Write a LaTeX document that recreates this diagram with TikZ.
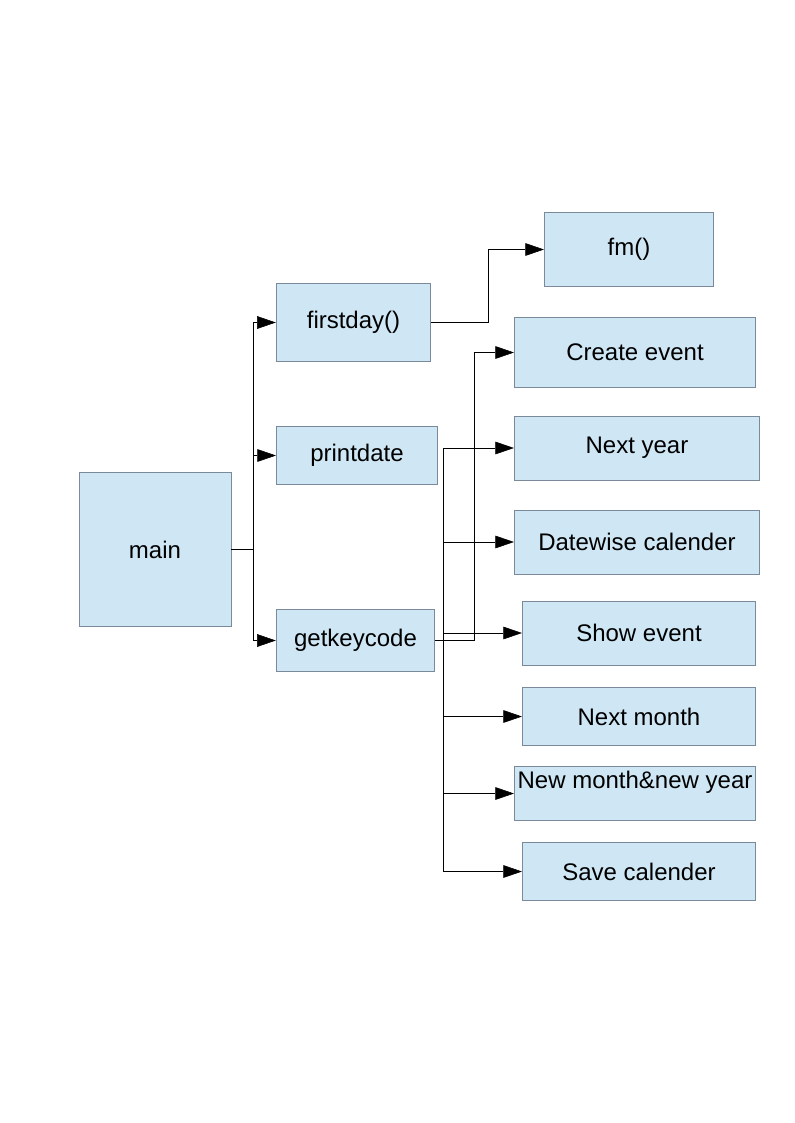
\documentclass[tikz,border=0pt]{standalone}
\usepackage{fontspec}
\setmainfont{Liberation Sans}
\usepackage{tikz}
\usetikzlibrary{arrows.meta, positioning}
\definecolor{boxblue}{RGB}{207,231,245}
\definecolor{boxedge}{RGB}{122,138,154}
\tikzset{
x=0.75pt, y=-0.75pt, % one unit is one pixel of the page
>={Triangle[length=14pt, width=9.5pt]}, % big filled arrow heads
line width=0.75pt,
fn/.style={draw=boxedge, fill=boxblue, line width=0.6pt, inner sep=0pt,
  font=\fontsize{18}{21}\selectfont}, % sets the properties for each function box
}

\begin{document}
\begin{tikzpicture}
      \useasboundingbox (0,0) rectangle (794,1123);
      \node[fn, minimum width=114pt, minimum height=116pt] (main) at (155,549.5) {main};
      \node[fn, minimum width=116pt, minimum height=59pt] (firstday) at (353.5,322.5) {firstday()};
      \node[fn, minimum width=121pt, minimum height=43pt] (printdate) at (357,455.5) {printdate};
      \node[fn, minimum width=119pt, minimum height=47pt] (getkeycode) at (355.5,640.5) {getkeycode};
      \node[fn, minimum width=127pt, minimum height=56pt] (fm) at (629,249.5) {fm()};
      \node[fn, minimum width=181pt, minimum height=53pt] (create) at (635,352.5) {Create event};
      \node[fn, minimum width=184pt, minimum height=48pt] (nextyear) at (637,448) {Next year};
      \node[fn, minimum width=184pt, minimum height=48pt] (datewise) at (637,542) {Datewise calender};
      \node[fn, minimum width=175pt, minimum height=48pt] (showevent) at (639,633) {Show event};
      \node[fn, minimum width=175pt, minimum height=43pt] (nextmonth) at (639,716.5) {Next month};
      \node[fn, minimum width=181pt, minimum height=40pt] (newmonth) at (635,793.5) {};
      \node[font=\fontsize{18}{21}\selectfont, anchor=north, inner sep=0pt] (newmonthtext) at ([yshift=-3pt]newmonth.north) {New month\&new year};
      \node[fn, minimum width=175pt, minimum height=43pt] (savecal) at (639,871.5) {Save calender};

      % main calls
      \draw[->] (main.east) -- ++(22,0) |- (firstday.west);
      \draw[->] (main.east) -- ++(22,0) |- (printdate.west);
      \draw[->] (main.east) -- ++(22,0) |- (getkeycode.west);
      \draw[->] (firstday.east) -- ++(57,0) |- (fm.west);
      % getkeycode calls
      \draw[->] (getkeycode.east) -- ++(39,0) |- (create.west);
      \draw[->] (getkeycode.east) ++(8,0) |- (nextyear.west);
      \draw[->] (getkeycode.east) ++(8,0) |- (datewise.west);
      \draw[->] (getkeycode.east) ++(8,0) |- (showevent.west);
      \draw[->] (getkeycode.east) ++(8,0) |- (nextmonth.west);
      \draw[->] (getkeycode.east) ++(8,0) |- (newmonth.west);
      \draw[->] (getkeycode.east) ++(8,0) |- (savecal.west);
    \end{tikzpicture}
\end{document}
